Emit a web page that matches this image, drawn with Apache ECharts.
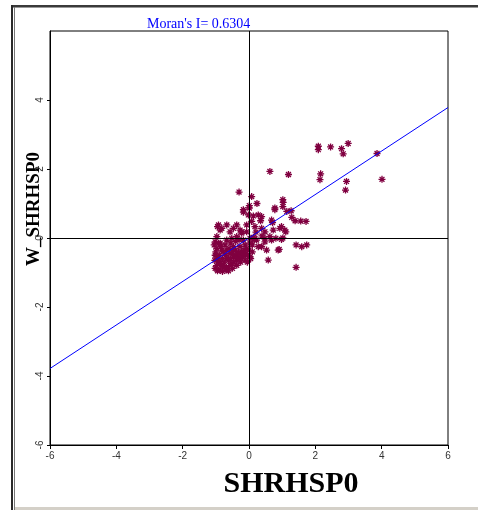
<!DOCTYPE html>
<html>
<head>
<meta charset="utf-8">
<script src="https://cdn.jsdelivr.net/npm/echarts@6/dist/echarts.min.js"></script>
<style>
  html, body { margin: 0; padding: 0; background: #fff; }
  #chart { width: 478px; height: 510px; }
</style>
</head>
<body>
<div id="chart"></div>
<script>
// Moran scatter plot: SHRHSP0 vs spatial lag W_SHRHSP0
const moransI = 0.6304;
const xTicks = [-6, -4, -2, 0, 2, 4, 6];
const yTicks = [-6, -4, -2, 0, 2, 4, 6];

// upper right quadrant outliers
const highHigh = [
  [2.09, 2.66], [2.09, 2.56], [2.46, 2.64], [2.79, 2.59], [2.99, 2.74], [2.84, 2.44],
  [3.86, 2.45], [2.16, 1.86], [2.14, 1.69], [2.94, 1.64], [2.91, 1.39], [4.01, 1.70],
  [1.19, 1.84], [0.63, 1.93], [1.02, 1.11], [1.03, 1.03], [1.14, 0.77], [1.27, 0.79],
  [1.29, 0.60], [1.39, 0.50], [1.56, 0.49], [1.72, 0.48], [0.98, 0.33], [1.11, 0.18],
  [1.02, 0.00], [0.08, 1.20], [0.78, 0.87], [1.02, 0.91]
];

// points near the origin
const middle = [
  [0.01, 0.94], [0.24, 1.00], [-0.17, 0.75], [0.78, 0.82], [0.28, 0.67], [0.38, 0.62],
  [0.13, 0.64], [0.35, 0.50], [0.68, 0.52], [0.71, 0.45], [0.08, 0.48], [-0.07, 0.38],
  [0.18, 0.33], [0.38, 0.28], [0.73, 0.23], [0.93, 0.28], [1.08, 0.23], [0.48, 0.18],
  [0.21, 0.17], [0.39, 0.06], [0.13, 0.02], [0.23, -0.06], [0.28, -0.25], [0.48, -0.11],
  [0.68, -0.06], [0.63, 0.04], [0.81, -0.01], [0.98, -0.04], [0.38, -0.25], [0.53, -0.35],
  [0.88, -0.35], [0.91, -0.33], [-0.17, 0.82], [0.01, 0.87], [-0.02, 0.67], [0.18, -0.01],
  [0.48, -0.01], [1.42, -0.20], [1.59, -0.25], [1.74, -0.20], [1.42, -0.85], [0.58, -0.64],
  [-0.30, 1.33]
];

// left side and the dense low-low cluster
const lowLow = [
  [-0.95, 0.33], [-0.87, 0.23], [-0.67, 0.38], [-0.57, 0.18], [-0.27, 0.23], [-0.22, 0.14],
  [-0.17, -0.06], [-0.92, 0.38], [-0.82, 0.28], [-0.47, 0.28], [-0.37, 0.38], [-0.22, 0.18],
  [-0.07, 0.18], [-0.97, 0.04], [-1.02, -0.11], [-0.87, -0.15], [-0.67, -0.06], [-0.52, -0.01],
  [-0.37, 0.04], [0.03, -0.01], [-0.47, -0.25], [-0.27, -0.25], [-0.07, -0.30], [0.03, -0.15],
  [-0.97, -0.30], [-1.02, -0.50], [-0.92, -0.69], [-1.02, -0.88], [-0.87, -0.93], [-0.77, -0.79],
  [-0.67, -0.59], [-0.57, -0.45], [-0.47, -0.55], [-0.37, -0.64], [-0.27, -0.59], [-0.17, -0.50],
  [-0.12, -0.64], [-0.52, -0.74], [-0.72, -0.93], [-0.37, -0.79], [0.03, -0.55], [-0.82, -0.35],
  [-0.67, -0.35], [-1.05, -0.20], [-1.00, -0.40], [-0.95, -0.60], [-0.98, -0.80], [-0.95, -0.95],
  [-0.90, -0.50], [-0.85, -0.80], [-0.80, -0.60], [-0.78, -0.40], [-0.75, -0.70], [-0.70, -0.50],
  [-0.68, -0.85], [-0.62, -0.65], [-0.60, -0.30], [-0.58, -0.80], [-0.55, -0.60], [-0.50, -0.40],
  [-0.45, -0.70], [-0.42, -0.50], [-0.40, -0.35], [-0.35, -0.55], [-0.30, -0.45], [-0.25, -0.70],
  [-0.22, -0.40], [-0.20, -0.55], [-0.15, -0.35], [-0.10, -0.45], [-0.05, -0.50], [-0.85, -0.25],
  [-0.92, -0.15], [-0.72, -0.20], [-0.55, -0.15], [-0.40, -0.10], [-0.30, -0.05], [-1.03, -0.65],
  [-0.88, -0.68], [-0.62, -0.95], [-0.80, -0.97], [-0.50, -0.88], [-0.32, -0.42], [-0.12, -0.20],
  [0.00, -0.35], [0.10, -0.40], [0.05, -0.60], [-0.05, -0.70], [0.10, -0.20], [0.15, -0.05]
];

const points = highHigh.concat(middle, lowLow);
const fitLine = [xTicks[0], xTicks[xTicks.length - 1]].map((x) => [x, x * moransI]);

const star = 'path://M0,5L10,5M5,0L5,10M1.5,1.5L8.5,8.5M8.5,1.5L1.5,8.5';
const serif = '"Liberation Serif", "Times New Roman", serif';

const chart = echarts.init(document.getElementById('chart'));

const option = {
  animation: false,
  backgroundColor: '#fff',
  title: {
    text: "Moran's I= " + moransI.toFixed(4),
    left: 142,
    top: 12,
    textStyle: { fontFamily: serif, fontSize: 14, fontWeight: 'normal', color: '#0000ff' }
  },
  grid: {
    left: 50,
    right: 30,
    top: 31,
    bottom: 65,
    show: true,
    borderColor: '#000',
    borderWidth: 1
  },
  xAxis: {
    type: 'value',
    min: xTicks[0],
    max: xTicks[xTicks.length - 1],
    interval: 2,
    axisLine: { onZero: false, lineStyle: { color: '#000' } },
    axisTick: { show: true, length: 4, lineStyle: { color: '#000' } },
    splitLine: { show: false },
    axisLabel: { color: '#333', fontSize: 10, fontFamily: 'Liberation Sans', margin: 6 }
  },
  yAxis: {
    type: 'value',
    min: yTicks[0],
    max: yTicks[yTicks.length - 1],
    interval: 2,
    axisLine: { onZero: false, lineStyle: { color: '#000' } },
    axisTick: { show: true, length: 3, lineStyle: { color: '#000' } },
    splitLine: { show: false },
    axisLabel: {
      color: '#333', fontSize: 10, fontFamily: 'Liberation Sans', rotate: 90, margin: 5,
      showMaxLabel: false
    }
  },
  graphic: [
    { type: 'rect', shape: { x: 11, y: 5, width: 467, height: 2 }, style: { fill: '#3a3a3a' } },
    { type: 'rect', shape: { x: 11, y: 7, width: 467, height: 1 }, style: { fill: '#999' } },
    { type: 'rect', shape: { x: 11, y: 5, width: 2, height: 505 }, style: { fill: '#2a2a2a' } },
    { type: 'rect', shape: { x: 14, y: 7, width: 1, height: 503 }, style: { fill: '#777' } },
    { type: 'rect', shape: { x: 15, y: 507, width: 463, height: 3 }, style: { fill: '#d4d0c8' } },
    {
      type: 'text', x: 291, y: 484,
      style: { text: 'SHRHSP0', font: 'bold 30px ' + serif, fill: '#000', align: 'center', verticalAlign: 'middle' }
    },
    {
      type: 'text', x: 34, y: 209, rotation: Math.PI / 2,
      style: { text: 'W_SHRHSP0', font: 'bold 19px ' + serif, fill: '#000', align: 'center', verticalAlign: 'middle' }
    }
  ],
  series: [
    {
      type: 'line',
      data: fitLine,
      symbol: 'none',
      silent: true,
      lineStyle: { color: '#0000ff', width: 1 },
      z: 3
    },
    {
      type: 'scatter',
      data: points,
      symbol: star,
      symbolSize: 7,
      itemStyle: { color: '#800040', borderColor: '#800040', borderWidth: 1.3, opacity: 1 },
      markLine: {
        silent: true,
        symbol: 'none',
        label: { show: false },
        lineStyle: { color: '#000', width: 1, type: 'solid' },
        data: [{ xAxis: 0 }, { yAxis: 0 }]
      },
      z: 2
    }
  ]
};

chart.setOption(option);
</script>
</body>
</html>
